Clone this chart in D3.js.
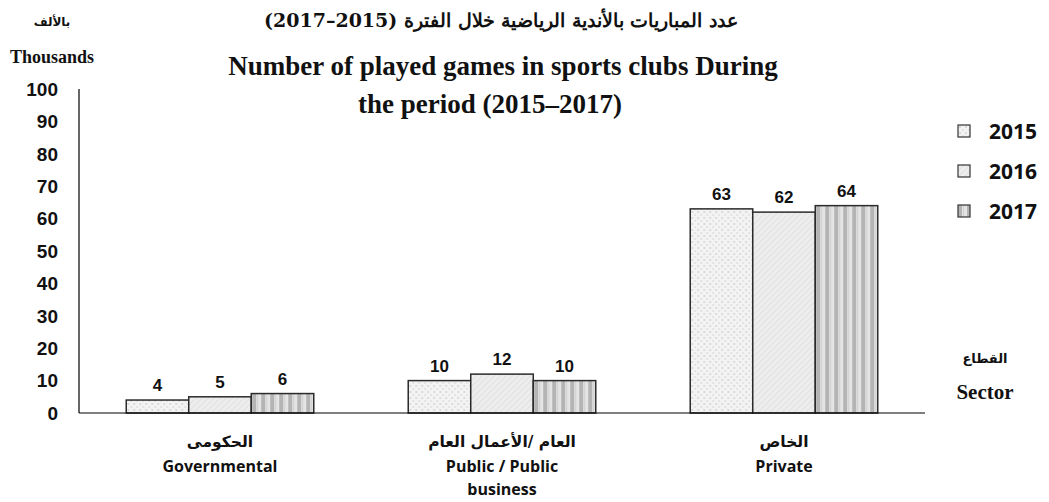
<!DOCTYPE html>
<html>
<head>
	<meta charset="utf-8">
	<title></title>
	<style type="text/css">
		body { margin: 0; background: #fff; }
		.viz { display: block; }
	</style>
</head>
<body>
	<svg class="viz" width="1049" height="502"></svg>

	<script src="https://d3js.org/d3.v7.min.js" charset="utf-8"></script>
	<script type="text/javascript">

		// chart data
		var sectorsAr = ['الحكومى', 'العام /الأعمال العام', 'الخاص'];
		var sectorsEn = [['Governmental'], ['Public / Public', 'business'], ['Private']];
		var years = ['2015', '2016', '2017'];
		var values2015 = [4, 10, 63];
		var values2016 = [5, 12, 62];
		var values2017 = [6, 10, 64];
		var yTicks = [0, 10, 20, 30, 40, 50, 60, 70, 80, 90, 100];

		var series = [values2015, values2016, values2017];

		var svg = d3.select('.viz');
		var defs = svg.append('defs');

		// fill patterns for the three years
		var p1 = defs.append('pattern').attr('id', 'pat2015')
			.attr('patternUnits', 'userSpaceOnUse').attr('width', 6).attr('height', 6);
		p1.append('rect').attr('width', 6).attr('height', 6).attr('fill', '#f3f3f3');
		p1.append('rect').attr('x', 1).attr('y', 1).attr('width', 2).attr('height', 2).attr('fill', '#dadada');
		p1.append('rect').attr('x', 4).attr('y', 4).attr('width', 2).attr('height', 2).attr('fill', '#e2e2e2');

		var p2 = defs.append('pattern').attr('id', 'pat2016')
			.attr('patternUnits', 'userSpaceOnUse').attr('width', 6).attr('height', 6);
		p2.append('rect').attr('width', 6).attr('height', 6).attr('fill', '#ededed');
		p2.append('path').attr('d', 'M0,6 L6,0 M-1,1 L1,-1 M5,7 L7,5')
			.attr('stroke', '#dddddd').attr('stroke-width', 1);

		var p3 = defs.append('pattern').attr('id', 'pat2017')
			.attr('patternUnits', 'userSpaceOnUse').attr('width', 9).attr('height', 9);
		p3.append('rect').attr('width', 9).attr('height', 9).attr('fill', '#e4e4e4');
		p3.append('rect').attr('x', 0).attr('width', 4).attr('height', 9).attr('fill', '#b4b4b4');
		p3.append('rect').attr('x', 5).attr('width', 1).attr('height', 9).attr('fill', '#cfcfcf');

		var fills = ['url(#pat2015)', 'url(#pat2016)', 'url(#pat2017)'];

		// scales
		var x0 = d3.scaleBand().domain(d3.range(sectorsAr.length)).range([79, 925]).paddingInner(0.335).paddingOuter(0.1675);
		var x1 = d3.scaleBand().domain(d3.range(years.length)).range([0, x0.bandwidth()]);
		var y = d3.scaleLinear().domain([0, 100]).range([413, 89]);

		// y axis labels
		svg.append('g').selectAll('text').data(yTicks)
			.enter().append('text')
				.attr('x', 58)
				.attr('y', function(d) { return y(d); })
				.attr('dy', '0.36em')
				.attr('text-anchor', 'end')
				.attr('font-family', 'Liberation Sans, Arial, sans-serif')
				.attr('font-weight', 'bold')
				.attr('font-size', 19)
				.attr('fill', '#111')
				.text(function(d) { return d; });

		// bars
		var groups = svg.append('g').selectAll('g').data(sectorsAr)
			.enter().append('g')
				.attr('transform', function(d, i) { return 'translate(' + x0(i) + ',0)'; });

		groups.selectAll('rect').data(function(d, i) {
				return series.map(function(s, j) { return { year: j, value: s[i] }; });
			})
			.enter().append('rect')
				.attr('x', function(d) { return x1(d.year); })
				.attr('y', function(d) { return y(d.value); })
				.attr('width', x1.bandwidth())
				.attr('height', function(d) { return y(0) - y(d.value); })
				.attr('fill', function(d) { return fills[d.year]; })
				.attr('stroke', '#2b2b2b')
				.attr('stroke-width', 1.5);

		groups.selectAll('text.val').data(function(d, i) {
				return series.map(function(s, j) { return { year: j, value: s[i] }; });
			})
			.enter().append('text')
				.attr('class', 'val')
				.attr('x', function(d) { return x1(d.year) + x1.bandwidth() / 2; })
				.attr('y', function(d) { return y(d.value) - 9; })
				.attr('text-anchor', 'middle')
				.attr('font-family', 'Liberation Sans, Arial, sans-serif')
				.attr('font-weight', 'bold')
				.attr('font-size', 17)
				.attr('fill', '#111')
				.text(function(d) { return d.value; });

		// axes lines
		svg.append('line').attr('x1', 79).attr('x2', 79).attr('y1', y(100)).attr('y2', y(0))
			.attr('stroke', '#000').attr('stroke-width', 1.2);
		svg.append('line').attr('x1', 79).attr('x2', 925).attr('y1', y(0)).attr('y2', y(0))
			.attr('stroke', '#000').attr('stroke-width', 1.2);

		// category labels
		var cat = svg.append('g').selectAll('g').data(sectorsAr)
			.enter().append('g')
				.attr('transform', function(d, i) { return 'translate(' + (x0(i) + x0.bandwidth() / 2) + ',0)'; });
		cat.append('text')
			.attr('y', 447)
			.attr('text-anchor', 'middle')
			.attr('font-family', 'DejaVu Sans, sans-serif')
			.attr('font-weight', 'bold')
			.attr('font-size', 15.5)
			.attr('fill', '#111')
			.text(function(d) { return d; });
		cat.each(function(d, i) {
			var g = d3.select(this);
			sectorsEn[i].forEach(function(line, k) {
				g.append('text')
					.attr('y', 472 + k * 23)
					.attr('text-anchor', 'middle')
					.attr('font-family', 'Open Sans, sans-serif')
					.attr('font-weight', 'bold')
					.attr('font-size', 16)
					.attr('fill', '#111')
					.text(line);
			});
		});

		// legend
		var legend = svg.append('g').selectAll('g').data(years)
			.enter().append('g')
				.attr('transform', function(d, i) { return 'translate(958,' + (131 + i * 40) + ')'; });
		legend.append('rect')
			.attr('x', 0).attr('y', -6).attr('width', 12).attr('height', 12)
			.attr('fill', function(d, i) { return fills[i]; })
			.attr('stroke', '#333').attr('stroke-width', 1.2);
		legend.append('text')
			.attr('x', 31).attr('y', 0).attr('dy', '0.36em')
			.attr('font-family', 'Open Sans, sans-serif')
			.attr('font-weight', 'bold')
			.attr('font-size', 21)
			.attr('fill', '#111')
			.text(function(d) { return d; });

		// titles
		var serif = 'Liberation Serif, Times New Roman, serif';
		svg.append('text').attr('x', 501).attr('y', 27).attr('text-anchor', 'middle')
			.attr('font-family', 'DejaVu Serif, serif').attr('font-weight', 'bold').attr('font-size', 19).attr('fill', '#111')
			.text('عدد المباريات بالأندية الرياضية خلال الفترة (2015–2017)');
		svg.append('text').attr('x', 503).attr('y', 75).attr('text-anchor', 'middle')
			.attr('font-family', serif).attr('font-weight', 'bold').attr('font-size', 27).attr('fill', '#111')
			.text('Number of  played games in sports clubs During');
		svg.append('text').attr('x', 490).attr('y', 113).attr('text-anchor', 'middle')
			.attr('font-family', serif).attr('font-weight', 'bold').attr('font-size', 27).attr('fill', '#111')
			.text('the period (2015–2017)');

		svg.append('text').attr('x', 52).attr('y', 26).attr('text-anchor', 'middle')
			.attr('font-family', 'DejaVu Sans, sans-serif').attr('font-weight', 'bold').attr('font-size', 12).attr('fill', '#111')
			.text('بالألف');
		svg.append('text').attr('x', 52).attr('y', 63).attr('text-anchor', 'middle')
			.attr('font-family', serif).attr('font-weight', 'bold').attr('font-size', 18).attr('fill', '#111')
			.text('Thousands');

		svg.append('text').attr('x', 985).attr('y', 363).attr('text-anchor', 'middle')
			.attr('font-family', 'DejaVu Sans, sans-serif').attr('font-weight', 'bold').attr('font-size', 13).attr('fill', '#111')
			.text('القطاع');
		svg.append('text').attr('x', 985).attr('y', 399).attr('text-anchor', 'middle')
			.attr('font-family', serif).attr('font-weight', 'bold').attr('font-size', 21).attr('fill', '#111')
			.text('Sector');

	</script>
</body>
</html>
